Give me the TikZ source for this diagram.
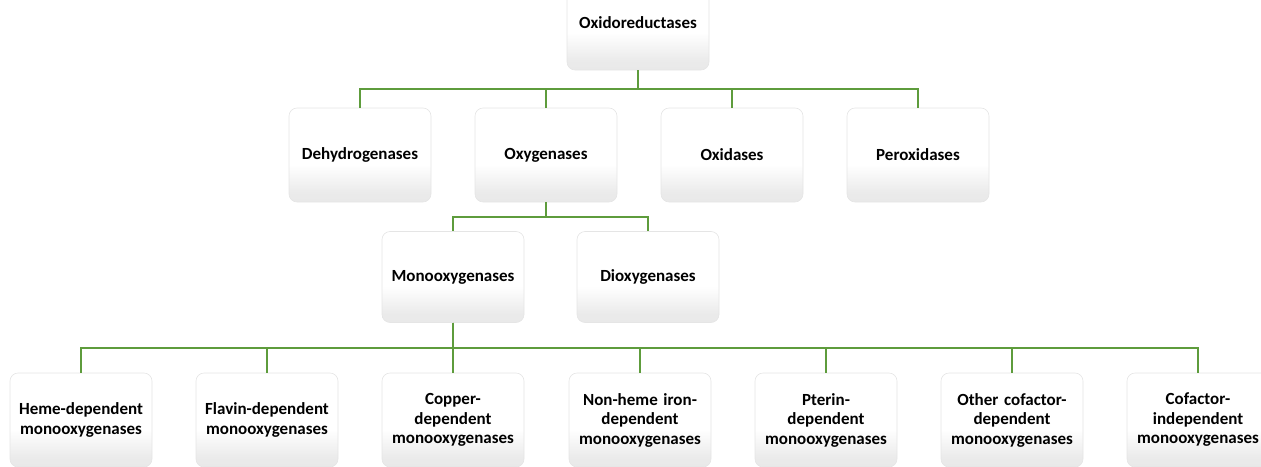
\documentclass[tikz,border=0pt]{standalone}
\usepackage{fontspec}
\setmainfont{Carlito}
\usetikzlibrary{calc}
\definecolor{linegreen}{HTML}{5E9C3C}
\pgfdeclareverticalshading{boxshade}{100bp}{
  color(0bp)=(black!12);
  color(30bp)=(black!8);
  color(45bp)=(white);
  color(100bp)=(white)}
\tikzset{
  box/.style={rounded corners=8pt, draw=black!10, line width=0.6pt,
    shading=boxshade, minimum width=142pt, minimum height=94pt,
    align=center, font=\fontsize{17}{19.5}\selectfont\bfseries,
    inner sep=1pt, text width=140pt},
  conn/.style={draw=linegreen, line width=2pt}
}
\begin{document}
\begin{tikzpicture}[x=1pt,y=-1pt]
\useasboundingbox (0,0) rectangle (1261,466);
\node[box] (root) at (638,23) {Oxidoreductases};
\node[box] (deh) at (360,155) {Dehydrogenases};
\node[box] (oxy) at (546,155) {Oxygenases};
\node[box] (oxi) at (732,155) {Oxidases};
\node[box] (per) at (918,155) {Peroxidases};
\node[box,minimum height=91pt] (mono) at (453,277) {Monooxygenases};
\node[box,minimum height=91pt] (diox) at (648,277) {Dioxygenases};
\node[box] (heme) at (81,420) {Heme-dependent\\monooxygenases};
\node[box] (flav) at (267,420) {Flavin-dependent\\monooxygenases};
\node[box] (copp) at (453,420) {Copper-\\dependent\\monooxygenases};
\node[box] (nonh) at (640,420) {Non-heme iron-\\dependent\\monooxygenases};
\node[box] (pter) at (826,420) {Pterin-\\dependent\\monooxygenases};
\node[box] (othe) at (1012,420) {Other cofactor-\\dependent\\monooxygenases};
\node[box] (cofi) at (1198,420) {Cofactor-\\independent\\monooxygenases};
\foreach \p/\c in {root/deh,root/oxy,root/oxi,root/per,oxy/mono,oxy/diox,
  mono/heme,mono/flav,mono/copp,mono/nonh,mono/pter,mono/othe,mono/cofi}{
  \draw[conn] (\p.south) -- ($(\p.south)!0.5!(\p.south|-\c.north)$) -| (\c.north);
}
\end{tikzpicture}
\end{document}
